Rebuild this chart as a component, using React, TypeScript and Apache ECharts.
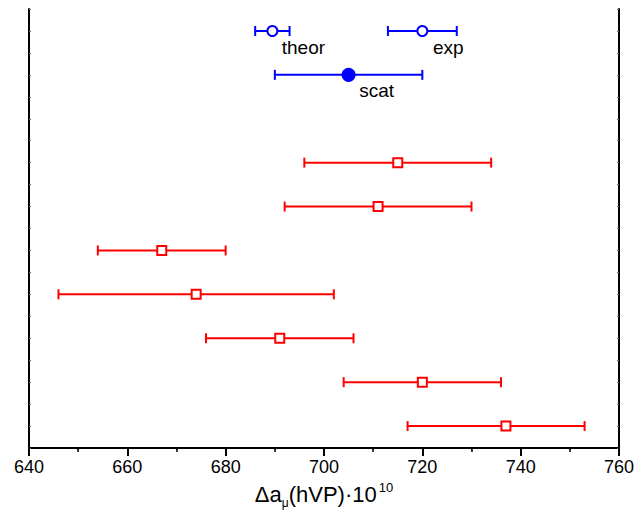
import React, { useEffect, useRef } from "react";
import * as echarts from "echarts";

// Red data rows (y index on a hidden 0..20 scale)
const redRows = [13, 11, 9, 7, 5, 3, 1];
const redCenter = [715, 711, 667, 674, 691, 720, 737];
const redLow = [696, 692, 654, 646, 676, 704, 717];
const redHigh = [734, 730, 680, 702, 706, 736, 753];

// Blue reference points
const blueNames = ["theor", "exp", "scat"];
const blueRows = [19, 19, 17];
const blueCenter = [689.5, 720, 705];
const blueLow = [686, 713, 690];
const blueHigh = [693, 727, 720];
const blueFilled = [false, false, true];

const xTicks = [640, 660, 680, 700, 720, 740, 760];

const RED = "#ff0000";
const BLUE = "#0000ff";
const FONT = "Liberation Sans, Arial, sans-serif";

function errorBarSeries(center: number[], low: number[], high: number[], rows: number[], color: string) {
  return {
    type: "custom",
    xAxisIndex: 0,
    yAxisIndex: 0,
    silent: true,
    z: 2,
    renderItem: (params: any, api: any) => {
      const y = api.value(1);
      const lo = api.coord([api.value(2), y]);
      const hi = api.coord([api.value(3), y]);
      const cap = 5;
      const style = { stroke: color, lineWidth: 2 };
      return {
        type: "group",
        children: [
          { type: "line", shape: { x1: lo[0], y1: lo[1], x2: hi[0], y2: hi[1] }, style },
          { type: "line", shape: { x1: lo[0], y1: lo[1] - cap, x2: lo[0], y2: lo[1] + cap }, style },
          { type: "line", shape: { x1: hi[0], y1: hi[1] - cap, x2: hi[0], y2: hi[1] + cap }, style },
        ],
      };
    },
    encode: { x: [2, 3], y: 1 },
    data: center.map((c, i) => [c, rows[i], low[i], high[i]]),
  };
}

const labelOffsets: Record<string, number[]> = {
  theor: [31, 17],
  exp: [26, 17],
  scat: [28, 16],
};

export default function App() {
  const ref = useRef<HTMLDivElement>(null);
  useEffect(() => {
    if (!ref.current) return;
    const chart = echarts.init(ref.current, null, { renderer: "svg" });
    const common = { min: 640, max: 760 };
    chart.setOption({
      animation: false,
      backgroundColor: "#ffffff",
      grid: { left: 29, right: 25, top: 9, bottom: 76, containLabel: false },
      xAxis: [
        {
          type: "value",
          ...common,
          interval: 20,
          position: "bottom",
          axisLine: { show: true, lineStyle: { color: "#000", width: 2 } },
          axisTick: { show: true, inside: false, length: 8, lineStyle: { color: "#000", width: 2 } },
          minorTick: { show: true, splitNumber: 2, length: 4, lineStyle: { color: "#000", width: 1.5 } },
          splitLine: { show: false },
          axisLabel: {
            color: "#000",
            fontSize: 18,
            fontFamily: FONT,
            margin: 10,
            formatter: (v: number) => (xTicks.includes(v) ? String(v) : ""),
          },
          name: "{a|Δa}{sub|μ}{a|(hVP)·10}{sup|10}",
          nameLocation: "middle",
          nameGap: 30,
          nameTextStyle: {
            rich: {
              a: { fontSize: 22, fontFamily: FONT, color: "#000", lineHeight: 28, verticalAlign: "middle" },
              sub: { fontSize: 12, fontFamily: FONT, color: "#000", lineHeight: 28, verticalAlign: "bottom", padding: [16, 0, 0, 0] },
              sup: { fontSize: 13, fontFamily: FONT, color: "#000", lineHeight: 28, verticalAlign: "top", padding: [0, 0, 12, 2] },
            },
          },
        },
        {
          type: "value",
          ...common,
          interval: 10,
          position: "top",
          axisLine: { show: true, lineStyle: { color: "#000", width: 2 } },
          axisTick: { show: true, inside: true, length: 2, lineStyle: { color: "#000", width: 1 } },
          axisLabel: { show: false },
          splitLine: { show: false },
        },
      ],
      yAxis: [
        {
          type: "value",
          min: 0,
          max: 20,
          interval: 1,
          position: "left",
          axisLine: { show: true, lineStyle: { color: "#000", width: 2 } },
          axisTick: { show: true, inside: true, length: 2, lineStyle: { color: "#666", width: 1 } },
          axisLabel: { show: false },
          splitLine: { show: false },
        },
        {
          type: "value",
          min: 0,
          max: 20,
          interval: 1,
          position: "right",
          axisLine: { show: true, lineStyle: { color: "#000", width: 2 } },
          axisTick: { show: true, inside: true, length: 2, lineStyle: { color: "#666", width: 1 } },
          axisLabel: { show: false },
          splitLine: { show: false },
        },
      ],
      series: [
        errorBarSeries(redCenter, redLow, redHigh, redRows, RED),
        errorBarSeries(blueCenter, blueLow, blueHigh, blueRows, BLUE),
        {
          type: "scatter",
          xAxisIndex: 0,
          yAxisIndex: 0,
          z: 5,
          symbol: "rect",
          symbolSize: 9,
          itemStyle: { color: "#fff", borderColor: RED, borderWidth: 2, opacity: 1 },
          data: redCenter.map((c, i) => [c, redRows[i]]),
        },
        {
          type: "scatter",
          xAxisIndex: 0,
          yAxisIndex: 0,
          z: 5,
          symbol: "circle",
          data: blueCenter.map((c, i) => ({
            value: [c, blueRows[i]],
            symbolSize: blueFilled[i] ? 12 : 10,
            itemStyle: {
              color: blueFilled[i] ? BLUE : "#fff",
              borderColor: BLUE,
              borderWidth: 2,
              opacity: 1,
            },
            label: {
              show: true,
              position: "inside",
              offset: labelOffsets[blueNames[i]],
              formatter: blueNames[i],
              color: "#000",
              fontSize: 19,
              fontFamily: FONT,
            },
          })),
        },
      ],
    });
    return () => chart.dispose();
  }, []);
  return <div ref={ref} style={{ position: "fixed", left: 0, top: 0, width: 644, height: 524, background: "#fff" }} />;
}
